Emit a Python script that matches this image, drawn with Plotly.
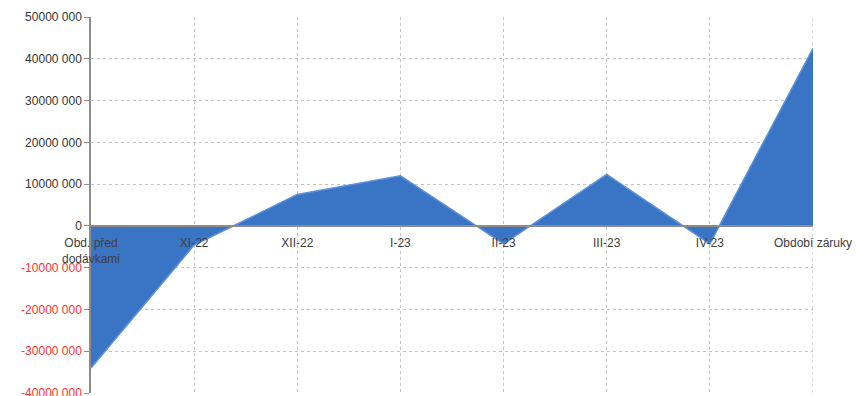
import plotly.graph_objects as go

categories = ["Obd. před<br>dodávkami", "XI-22", "XII-22", "I-23", "II-23", "III-23", "IV-23", "Období záruky"]
values = [-34000000, -4600000, 7500000, 12000000, -4300000, 12300000, -4300000, 42500000]

y_ticks = [-40000000, -30000000, -20000000, -10000000, 0, 10000000, 20000000, 30000000, 40000000, 50000000]
y_labels = ["-40000 000", "-30000 000", "-20000 000", "-10000 000", "0",
            "10000 000", "20000 000", "30000 000", "40000 000", "50000 000"]

y_min, y_max = -40000000, 50000000

def colored(v, t):
    c = "#ff3030" if v < 0 else "#333333"
    return f"<span style='color:{c}'>{t}</span>"

fig = go.Figure()
fig.add_trace(go.Scatter(
    x=list(range(len(categories))), y=values, mode="lines",
    fill="tozeroy",
    fillcolor="#3a74c4",
    line=dict(color="#5a92da", width=1.5),
    hoverinfo="skip",
))

fig.update_layout(
    width=856, height=396,
    margin=dict(l=91, r=43, t=17, b=3, autoexpand=False),
    paper_bgcolor="white", plot_bgcolor="white",
    showlegend=False,
    font=dict(family="Liberation Sans", size=11, color="#333333"),
    xaxis=dict(
        range=[0, len(categories) - 1],
        tickvals=list(range(len(categories))),
        ticktext=categories,
        anchor="free",
        position=(0 - y_min) / (y_max - y_min),
        showline=True, linecolor="#8c8c8c", linewidth=2,
        showgrid=True, gridcolor="#c4c4c4", griddash="dot", gridwidth=1,
        ticks="", ticklen=0,
        ticklabelstandoff=6,
        ticklabeloverflow="allow",
        automargin=False,
        tickfont=dict(size=12, color="#404040"),
        zeroline=False,
        mirror=False,
    ),
    yaxis=dict(
        range=[y_min, y_max],
        tickvals=y_ticks,
        ticktext=[colored(v, t) for v, t in zip(y_ticks, y_labels)],
        showline=True, linecolor="#8c8c8c", linewidth=1.5,
        ticks="outside", ticklen=5, tickcolor="#8c8c8c",
        showgrid=True, gridcolor="#c4c4c4", griddash="dot", gridwidth=1,
        zeroline=False,
        ticklabeloverflow="allow",
        automargin=False,
        tickfont=dict(size=12),
    ),
)

fig.add_shape(type="line", xref="x", yref="paper", x0=len(categories) - 1, x1=len(categories) - 1,
              y0=0, y1=1, line=dict(color="#c4c4c4", width=1, dash="dot"), layer="below")

fig.write_html("out.html")
